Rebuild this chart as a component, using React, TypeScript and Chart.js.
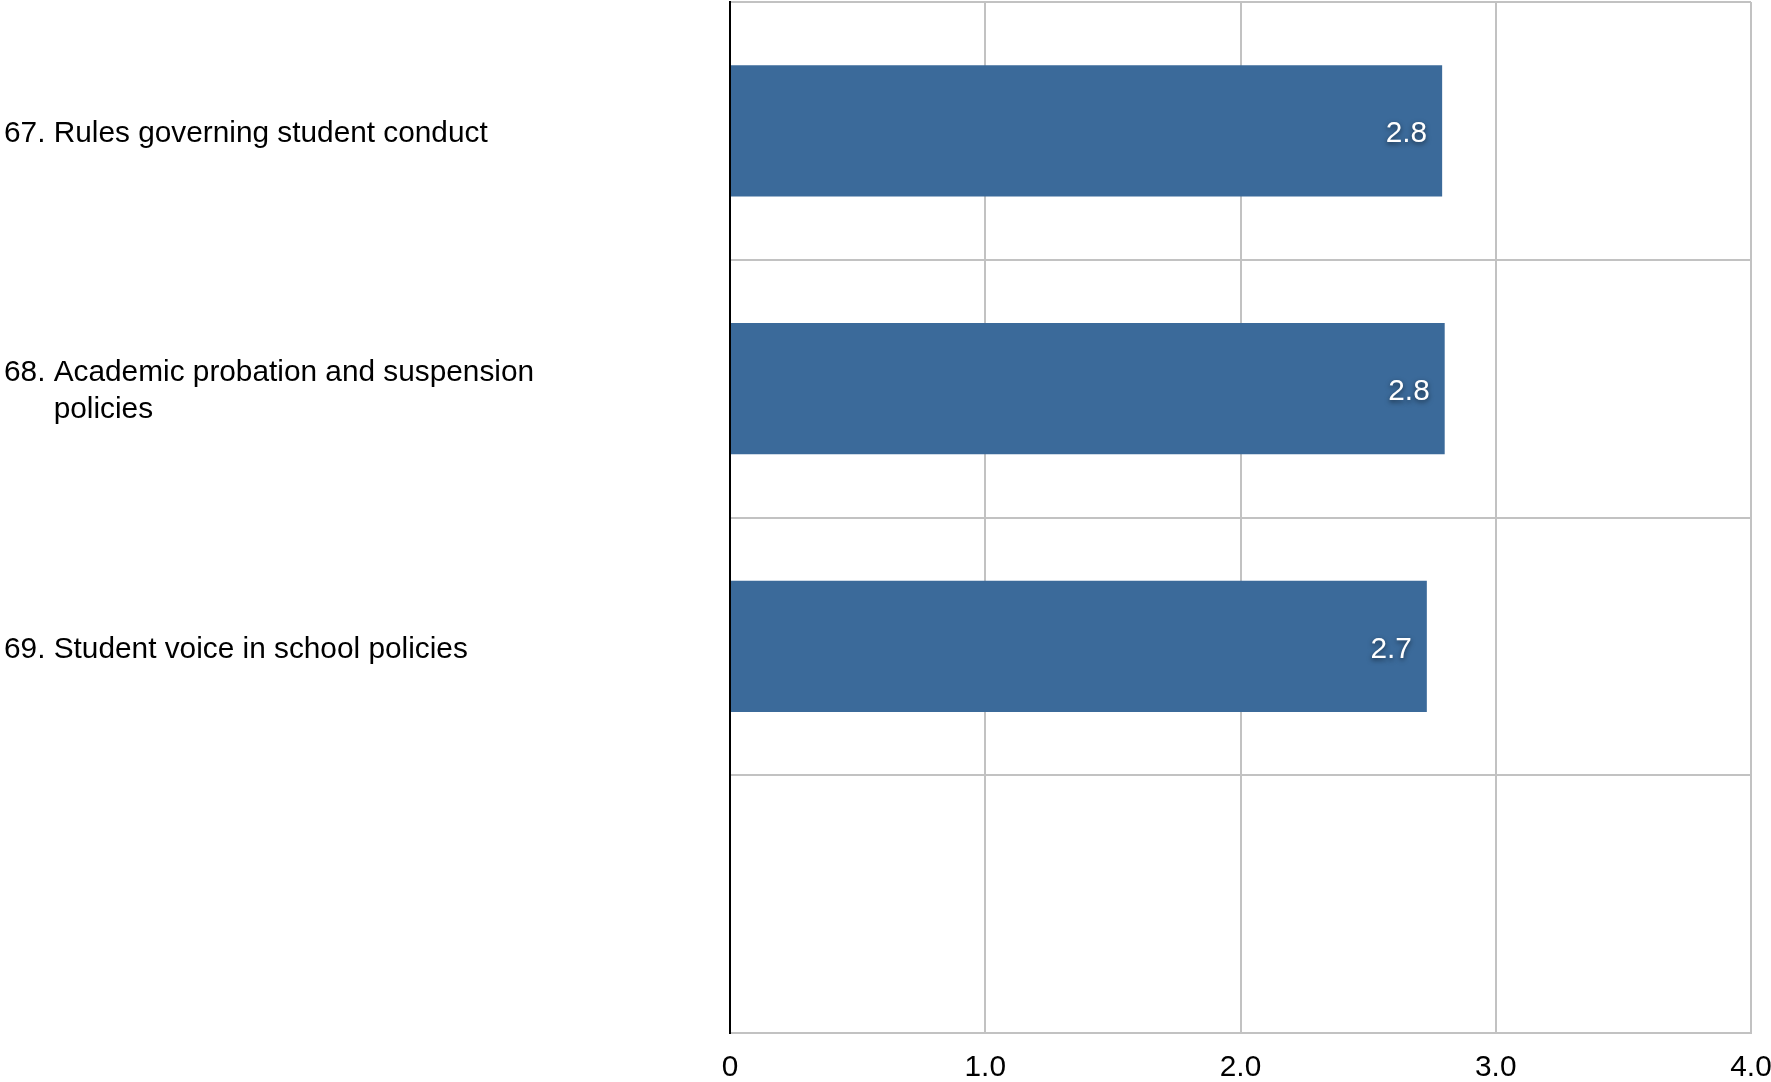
import React, { useEffect, useRef } from "react";
import { Chart, registerables } from "chart.js";

Chart.register(...registerables);

const categories: string[][] = [
  ["67. Rules governing student conduct"],
  ["68. Academic probation and suspension", "policies"],
  ["69. Student voice in school policies"],
  [""],
];
const values: (number | null)[] = [2.79, 2.8, 2.73, null];
const xTicks: number[] = [0, 1, 2, 3, 4];

const FONT = "Helvetica, Arial, 'Liberation Sans', sans-serif";
const FONT_SIZE = 29.8;
const BAR_COLOR = "#3b6a9a";
const GRID_COLOR = "#c2c2c2";

const yLabelsPlugin = {
  id: "yLabels",
  afterDraw(chart: any) {
    const ctx = chart.ctx;
    const yScale = chart.scales.y;
    ctx.save();
    ctx.font = `${FONT_SIZE}px ${FONT}`;
    ctx.fillStyle = "#000";
    ctx.textAlign = "left";
    ctx.textBaseline = "middle";
    const lineH = 37;
    categories.forEach((lines, i) => {
      const cy = yScale.getPixelForValue(i);
      const m = lines[0].match(/^\d+\.\s/);
      const indent = m ? ctx.measureText(m[0]).width : 0;
      const n = lines.length;
      lines.forEach((line, j) => {
        const y = cy + (j - (n - 1) / 2) * lineH + 3;
        ctx.fillText(line, j === 0 ? 4 : 4 + indent, y);
      });
    });
    ctx.restore();
  },
};

const valueLabelsPlugin = {
  id: "valueLabels",
  afterDatasetsDraw(chart: any) {
    const ctx = chart.ctx;
    const meta = chart.getDatasetMeta(0);
    ctx.save();
    ctx.font = `${FONT_SIZE}px ${FONT}`;
    ctx.fillStyle = "#fff";
    ctx.textAlign = "right";
    ctx.textBaseline = "middle";
    ctx.shadowColor = "rgba(0,0,0,0.55)";
    ctx.shadowBlur = 5;
    ctx.shadowOffsetY = 2;
    meta.data.forEach((bar: any, i: number) => {
      const v = values[i];
      if (v === null || v === undefined) return;
      ctx.fillText(v.toFixed(1), bar.x - 15, bar.y + 3);
    });
    ctx.restore();
  },
};

export default function App() {
  const ref = useRef<HTMLCanvasElement | null>(null);
  useEffect(() => {
    if (!ref.current) return;
    const chart = new Chart(ref.current, {
      type: "bar",
      data: {
        labels: categories.map((c) => c.join(" ")),
        datasets: [
          {
            data: values as any,
            backgroundColor: BAR_COLOR,
            borderWidth: 0,
            categoryPercentage: 1,
            barPercentage: 0.51,
          },
        ],
      },
      options: {
        indexAxis: "y",
        animation: false,
        responsive: false,
        maintainAspectRatio: false,
        layout: { padding: { top: 2, right: 20, left: 0, bottom: 0 } },
        plugins: {
          legend: { display: false },
          tooltip: { enabled: false },
          title: { display: false },
        },
        scales: {
          x: {
            type: "linear",
            position: "bottom",
            min: 0,
            max: 4,
            afterBuildTicks: (scale: any) => {
              scale.ticks = xTicks.map((v) => ({ value: v }));
            },
            afterFit: (scale: any) => {
              scale.height = 49;
              scale.paddingLeft = 0;
              scale.paddingRight = 0;
            },
            ticks: {
              stepSize: 1,
              color: "#000",
              padding: 17,
              font: { family: FONT, size: FONT_SIZE },
              callback: (v: any) => (Number(v) === 0 ? "0" : Number(v).toFixed(1)),
              maxRotation: 0,
            },
            grid: { color: GRID_COLOR, lineWidth: 2, drawTicks: false },
            border: { color: GRID_COLOR, width: 2 },
          },
          y: {
            type: "category",
            position: "left",
            offset: true,
            afterFit: (scale: any) => {
              scale.width = 730;
              scale.paddingTop = 0;
              scale.paddingBottom = 0;
            },
            ticks: { display: false },
            grid: { color: GRID_COLOR, lineWidth: 2, offset: true, drawTicks: false },
            border: { color: "#000", width: 2 },
          },
        },
      },
      plugins: [yLabelsPlugin, valueLabelsPlugin],
    });
    return () => chart.destroy();
  }, []);
  return (
    <div style={{ position: "fixed", left: 0, top: 0, width: 1771, height: 1082, background: "#fff" }}>
      <canvas ref={ref} width={1771} height={1082} style={{ width: 1771, height: 1082, display: "block" }} />
    </div>
  );
}
